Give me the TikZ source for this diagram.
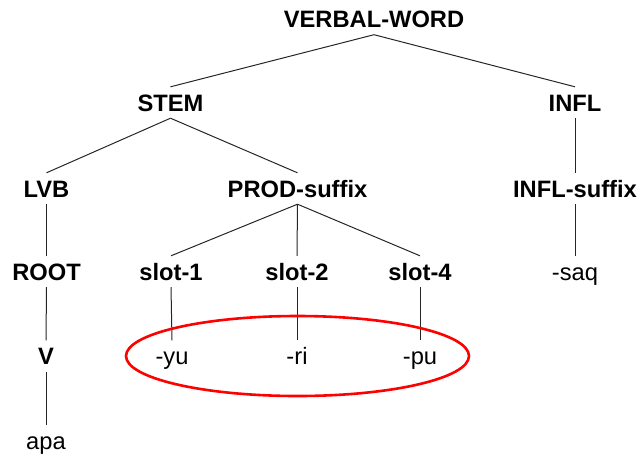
\documentclass[tikz,border=0pt]{standalone}
\usepackage{fontspec}
\setmainfont{Liberation Sans}
\usepackage{tikz}
\usetikzlibrary{positioning}
\tikzset{
  catnode/.style={
    font=\fontsize{23.7}{28}\selectfont\bfseries,
    text height=17pt, text depth=0pt,
    inner xsep=0pt, inner ysep=7pt
  },
  formnode/.style={catnode, font=\fontsize{23.7}{28}\selectfont},
  treeline/.style={line width=1pt, color=black!85},
  focusring/.style={draw=red, line width=2.6pt},
}

\begin{document}
\begin{tikzpicture}[x=1pt, y=-1pt]
  \useasboundingbox (0,0) rectangle (640,456);

  % Top two levels
  \node[catnode] (word) at (374,19) {VERBAL-WORD};
  \node[catnode] (stem) at (170.5,102.5) {STEM};
  \node[catnode] (infl) at (575,102.5) {INFL};

  % Stem parts and inflection suffix
  \node[catnode] (lvb) at (46.5,188.5) {LVB};
  \node[catnode] (prod) at (297.5,188.5) {PROD-suffix};
  \node[catnode] (inflsfx) at (575,188.5) {INFL-suffix};

  % Root and suffix slots
  \node[catnode] (root) at (46.5,271.5) {ROOT};
  \node[catnode] (slotA) at (171,271.5) {slot-1};
  \node[catnode] (slotB) at (297,271.5) {slot-2};
  \node[catnode] (slotD) at (420,271.5) {slot-4};
  \node[formnode] (saq) at (575,272) {-saq};

  % Verb and morphs
  \node[catnode] (verb) at (46,356) {V};
  \node[formnode] (yu) at (172,356) {-yu};
  \node[formnode] (ri) at (297,356) {-ri};
  \node[formnode] (pu) at (420,356) {-pu};
  \node[formnode] (apa) at (46,441) {apa};

  % Branches
  \draw[treeline] (word.south) -- (stem.north);
  \draw[treeline] (word.south) -- (infl.north);
  \draw[treeline] (stem.south) -- (lvb.north);
  \draw[treeline] (stem.south) -- (prod.north);
  \draw[treeline] (infl.south) -- (inflsfx.north);
  \draw[treeline] (lvb.south) -- (root.north);
  \draw[treeline] (prod.south) -- (slotA.north);
  \draw[treeline] (prod.south) -- (slotB.north);
  \draw[treeline] (prod.south) -- (slotD.north);
  \draw[treeline] (inflsfx.south) -- (saq.north);
  \draw[treeline] (root.south) -- (verb.north);
  \draw[treeline] (slotA.south) -- (yu.north);
  \draw[treeline] (slotB.south) -- (ri.north);
  \draw[treeline] (slotD.south) -- (pu.north);
  \draw[treeline] (verb.south) -- (apa.north);

  % Ring round the suffix morphs
  \draw[focusring] (297.5,356) ellipse [x radius=171.5pt, y radius=40pt];
\end{tikzpicture}
\end{document}
